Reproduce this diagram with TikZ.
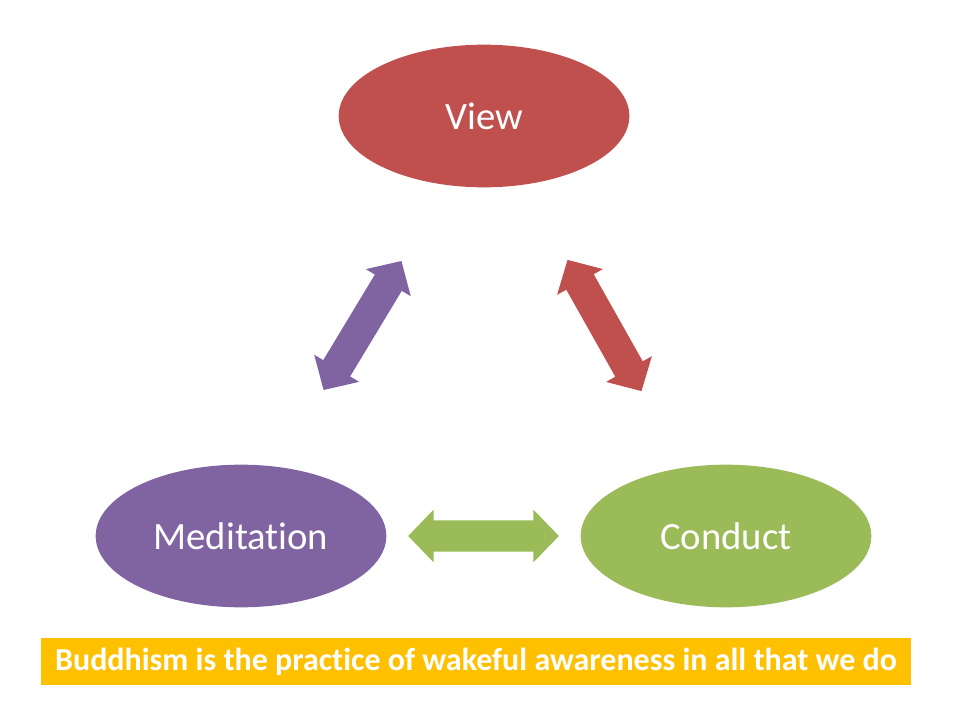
\documentclass[tikz,border=0pt]{standalone}
\usepackage{fontspec}
\setmainfont[RawFeature=-liga]{Carlito}
\usetikzlibrary{shapes.geometric,shapes.arrows}

\definecolor{viewred}{HTML}{C0504D}
\definecolor{medpurple}{HTML}{8064A2}
\definecolor{condgreen}{HTML}{9BBB59}
\definecolor{banner}{HTML}{FFC000}

\tikzset{
  oval/.style={ellipse, fill=#1, text=white, minimum width=218pt, minimum height=107pt,
    inner sep=0pt, font=\fontsize{29}{33}\selectfont},
  link/.style={double arrow, fill=#1, inner sep=0pt, text height=11.6pt, text depth=11.6pt,
    minimum width=39pt, minimum height=113pt, double arrow head extend=7.9pt,
    double arrow tip angle=92}
}

\begin{document}
\begin{tikzpicture}[x=0.75pt,y=-0.75pt]
	\useasboundingbox (0,0) rectangle (960,720);

	% The three ovals
	\node[oval=viewred] (view) at (484,116) {View};
	\node[oval=medpurple] (meditation) at (241,536) {Meditation};
	\node[oval=condgreen] (conduct) at (726,536) {Conduct};

	% Arrows between them
	\node[link=medpurple, rotate=58.9] (mv) at (362.5,325.5) {};
	\node[link=viewred, rotate=-60.6] (vc) at (604.5,325.5) {};
	\node[link=condgreen] (mc) at (483.5,536) {};

	% Banner
	\node[fill=banner, text=white, minimum width=652.5pt, minimum height=35.25pt, inner sep=0pt,
	  font=\bfseries\fontsize{24}{28}\selectfont] (motto) at (476,661.5)
	  {Buddhism is the practice of wakeful awareness in all that we do};
\end{tikzpicture}
\end{document}
